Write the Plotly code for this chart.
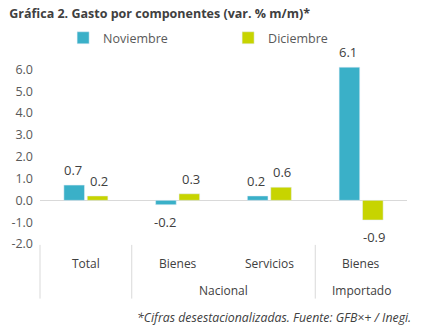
import plotly.graph_objects as go

categories = ["Total", "Bienes", "Servicios", "Bienes"]
groups = ["", "Nacional", "Nacional", "Importado"]
noviembre = [0.7, -0.2, 0.2, 6.1]
diciembre = [0.2, 0.3, 0.6, -0.9]
ytick_vals = [-2, -1, 0, 1, 2, 3, 4, 5, 6]
ytick_text = ["-2.0", "-1.0", "0.0", "1.0", "2.0", "3.0", "4.0", "5.0", "6.0"]

C_NOV = "#3AB0C8"
C_DIC = "#C7D400"
TXT = "#404040"
FONT = "Open Sans"

xpos = list(range(len(categories)))

fig = go.Figure()
fig.add_trace(go.Bar(name="Noviembre", x=xpos, y=noviembre, marker_color=C_NOV))
fig.add_trace(go.Bar(name="Diciembre", x=xpos, y=diciembre, marker_color=C_DIC))

annotations = []
# data labels
for series, dx in ((noviembre, -13), (diciembre, 13)):
    for i, v in enumerate(series):
        annotations.append(dict(x=i, y=v, xref="x", yref="y", text=f"{v:.1f}", showarrow=False,
                                xshift=dx, yshift=15 if v >= 0 else -17, yanchor="middle",
                                font=dict(size=13, color=TXT, family=FONT)))

for i, c in enumerate(categories):
    annotations.append(dict(x=i, y=-2, xref="x", yref="y", text=c, showarrow=False,
                            yshift=-19, font=dict(size=12, color=TXT, family=FONT)))
# group labels
seen = {}
for i, g in enumerate(groups):
    if g:
        seen.setdefault(g, []).append(i)
for g, idx in seen.items():
    annotations.append(dict(x=sum(idx) / len(idx), y=-2, xref="x", yref="y", text=g,
                            showarrow=False, yshift=-46, font=dict(size=12, color=TXT, family=FONT)))

annotations.append(dict(x=1.016, y=-0.408, xref="paper", yref="paper", xanchor="right", yanchor="middle",
                        text="<i>*Cifras desestacionalizadas. Fuente: GFB×+ / Inegi.</i>",
                        showarrow=False, font=dict(size=12.3, color=TXT, family=FONT)))

shapes = []
# dividers: left edge and group boundaries
n = len(groups)
bounds = [-0.5]
for i in range(1, n):
    if groups[i] != groups[i - 1] or groups[i] == "":
        bounds.append(i - 0.5)
for b in bounds:
    xp = (b + 0.5) / n
    shapes.append(dict(type="line", xref="paper", yref="paper", x0=xp, x1=xp, y0=-0.005, y1=-0.305,
                       line=dict(color="#D9D9D9", width=1)))

fig.update_layout(
    width=424, height=336,
    margin=dict(l=40, r=17, t=65, b=92),
    paper_bgcolor="white", plot_bgcolor="white",
    barmode="group", bargap=0.49, bargroupgap=0.12,
    title=dict(text="<b>Gráfica 2. Gasto por componentes (var. % m/m)*</b>", x=0.022, xanchor="left",
               y=0.958, yanchor="middle", font=dict(size=12.5, color=TXT, family=FONT)),
    legend=dict(orientation="h", x=0.063, y=1.15, xanchor="left", yanchor="middle",
                font=dict(size=12.5, color="#595959", family=FONT), entrywidth=120, itemwidth=30,
                bgcolor="rgba(0,0,0,0)"),
    xaxis=dict(range=[-0.5, 3.5], showticklabels=False, showgrid=False, zeroline=False,
               showline=False, ticks=""),
    yaxis=dict(range=[-2, 6.2], tickvals=ytick_vals, ticktext=ytick_text, showgrid=False,
               zeroline=True, zerolinecolor="#D9D9D9", zerolinewidth=1, showline=False,
               tickfont=dict(size=12.5, color="#595959", family=FONT), ticklabelstandoff=6),
    annotations=annotations, shapes=shapes,
    font=dict(family=FONT, color=TXT),
)

fig.write_html("out.html")
